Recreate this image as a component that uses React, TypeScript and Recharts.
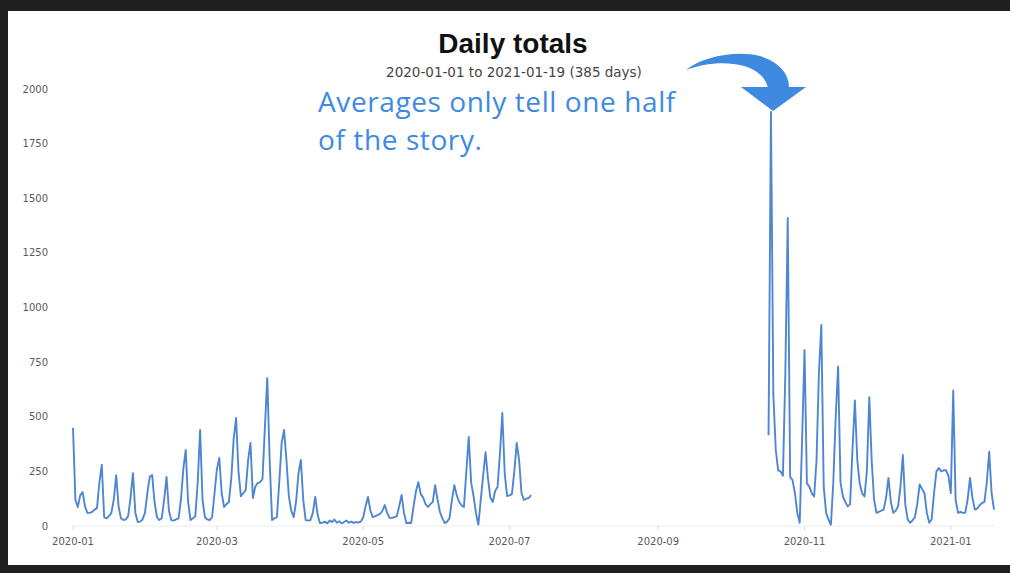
import { LineChart, Line, XAxis, YAxis, CartesianGrid } from 'recharts'

// daily totals, 2020-01-01 .. 2020-07-10 (day 0..191)
const springDays = [
  450, 120, 87, 140, 155, 90, 60, 60, 65, 75,
  82, 200, 280, 40, 35, 45, 60, 120, 233, 90,
  35, 27, 30, 45, 130, 242, 60, 18, 20, 30,
  60, 150, 225, 233, 110, 40, 27, 35, 120, 225,
  70, 27, 25, 30, 35, 120, 260, 348, 110, 27,
  35, 45, 200, 440, 120, 40, 30, 27, 40, 150,
  260, 311, 150, 87, 100, 110, 220, 400, 494, 250,
  137, 150, 164, 300, 380, 128, 180, 197, 200, 215,
  450, 677, 300, 27, 35, 40, 200, 380, 440, 300,
  137, 70, 40, 110, 240, 302, 120, 27, 25, 27,
  60, 133, 50, 13, 15, 20, 12, 25, 18, 30,
  15, 22, 12, 18, 25, 15, 20, 14, 18, 16,
  20, 40, 90, 133, 70, 40, 45, 50, 55, 70,
  96, 60, 37, 37, 40, 45, 90, 142, 60, 13,
  15, 13, 90, 160, 200, 146, 130, 100, 87, 100,
  110, 187, 120, 64, 35, 13, 20, 37, 120, 187,
  140, 110, 95, 87, 250, 407, 200, 137, 60, 5,
  119, 230, 338, 220, 130, 110, 160, 178, 330, 517,
  240, 137, 140, 146, 250, 380, 302, 150, 119, 125,
  128, 142,
]

// daily totals, 2020-10-17 .. 2021-01-19 (day 290..384)
const lateStart = 290
const autumnDays = [
  415, 1895, 600, 350, 255, 250, 230, 700, 1410, 225,
  210, 150, 60, 15, 400, 805, 195, 180, 150, 135,
  300, 700, 920, 180, 60, 30, 5, 200, 500, 730,
  200, 135, 110, 90, 100, 350, 575, 300, 195, 150,
  135, 250, 590, 300, 120, 60, 65, 70, 75, 130,
  220, 110, 60, 70, 90, 180, 325, 100, 30, 15,
  25, 40, 100, 190, 170, 150, 60, 15, 30, 150,
  250, 265, 250, 255, 255, 230, 150, 620, 120, 60,
  65, 60, 60, 120, 220, 130, 75, 80, 95, 105,
  110, 200, 340, 150, 75,
]

const totalDays = 385
const monthTicks = [0, 60, 121, 182, 244, 305, 366]
const monthLabels = ['2020-01', '2020-03', '2020-05', '2020-07', '2020-09', '2020-11', '2021-01']
const yTicks = [0, 250, 500, 750, 1000, 1250, 1500, 1750, 2000]

const rows: { day: number; v: number | null }[] = []
for (let d = 0; d < totalDays; d++) {
  let v: number | null = null
  if (d < springDays.length) v = springDays[d]
  else if (d >= lateStart && d - lateStart < autumnDays.length) v = autumnDays[d - lateStart]
  rows.push({ day: d, v })
}

const tickStyle = { fill: '#5a5a5a', fontSize: 10, fontFamily: 'DejaVu Sans' }
const noteBlue = '#3d8ae0'

export default function App() {
  return (
    <div style={{ position: 'fixed', left: 0, top: 0, width: 1010, height: 573, background: '#1f1f1f', overflow: 'hidden' }}>
      <div style={{ position: 'absolute', left: 8, top: 11, width: 1002, height: 554, background: '#ffffff' }} />
      <div style={{ position: 'absolute', left: 0, top: 0 }}>
        <LineChart width={1010} height={573} data={rows} margin={{ top: 89, right: 16, bottom: 17, left: 13 }}>
          <CartesianGrid horizontal={false} vertical={false} />
          <XAxis
            dataKey="day"
            type="number"
            domain={[0, totalDays - 1]}
            ticks={monthTicks}
            tickFormatter={(d) => monthLabels[monthTicks.indexOf(d)] ?? ''}
            tick={tickStyle}
            axisLine={{ stroke: '#ececec' }}
            tickLine={{ stroke: '#dcdcdc' }}
            tickSize={4}
            tickMargin={8}
            height={30}
          />
          <YAxis
            domain={[0, 2000]}
            ticks={yTicks}
            tick={tickStyle}
            axisLine={false}
            tickLine={false}
            tickSize={0}
            tickMargin={25}
            width={60}
          />
          <Line
            type="linear"
            dataKey="v"
            stroke="#4f86d4"
            strokeWidth={1.9}
            strokeLinejoin="round"
            dot={false}
            connectNulls={false}
            isAnimationActive={false}
          />
        </LineChart>
      </div>
      <svg width={1010} height={573} style={{ position: 'absolute', left: 0, top: 0, pointerEvents: 'none' }}>
        <text x={513} y={53} textAnchor="middle" fontFamily="Liberation Sans" fontWeight="bold" fontSize={28} fill="#111">
          Daily totals
        </text>
        <text x={514} y={77} textAnchor="middle" fontFamily="DejaVu Sans" fontSize={13.5} fill="#444">
          2020-01-01 to 2021-01-19 (385 days)
        </text>
        <text x={318} y={112} fontFamily="Open Sans" fontSize={28} letterSpacing={0.6} fill={noteBlue}>
          Averages only tell one half
        </text>
        <text x={318} y={150} fontFamily="Open Sans" fontSize={28} letterSpacing={0.6} fill={noteBlue}>
          of the story.
        </text>
        {/* curved arrow pointing at the big spike */}
        <path
          d="M 686 70 C 702 57, 735 50, 760 56 C 780 62, 790 75, 789 89 L 768 89 C 767 79, 758 70, 744 66 C 726 61, 704 63, 686 70 Z"
          fill={noteBlue}
        />
        <path d="M 741 87 L 806 87 L 773 111 Z" fill={noteBlue} />
      </svg>
    </div>
  )
}
